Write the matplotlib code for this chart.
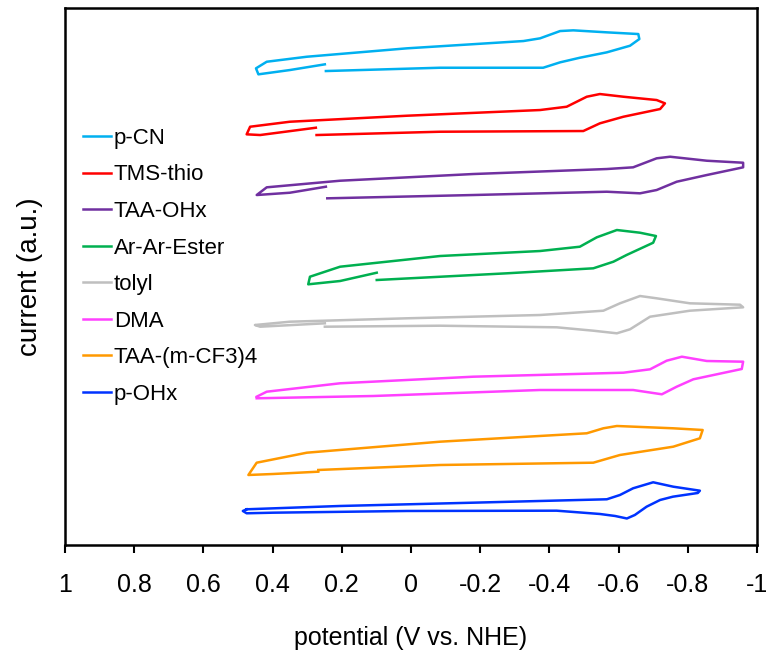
import numpy as np
import matplotlib
matplotlib.use("Agg")
import matplotlib.pyplot as plt

plt.rcParams['font.family'] = ['Liberation Sans', 'DejaVu Sans']

# potential (V vs. NHE) and current (a.u., curves stacked) for each CV
pcn_pot = [0.246, -0.084, -0.382, -0.431, -0.488, -0.566, -0.633, -0.660, -0.657,
           -0.566, -0.469, -0.431, -0.373, -0.325, 0.012, 0.301, 0.417, 0.448,
           0.441, 0.350, 0.249]
pcn_cur = [474, 477.3, 477.3, 482.7, 487.3, 492.7, 499.3, 506, 511,
           512.7, 514.7, 514, 506.7, 504, 496.7, 488.3, 483.3, 476.7,
           470.7, 475, 480.7]

tms_pot = [0.273, -0.084, -0.498, -0.546, -0.614, -0.720, -0.734, -0.710, -0.614,
           -0.546, -0.508, -0.450, -0.373, 0.012, 0.350, 0.465, 0.475, 0.436, 0.275]
tms_cur = [410, 413.3, 414, 421.7, 428.3, 436, 441.7, 445, 448.3,
           451, 448.3, 438.3, 435, 429.3, 423.3, 418.3, 410.7, 410, 417.3]

taa_pot = [0.242, -0.180, -0.566, -0.662, -0.710, -0.768, -0.855, -0.960, -0.960,
           -0.855, -0.749, -0.710, -0.642, -0.566, -0.180, 0.205, 0.417, 0.446,
           0.350, 0.246]
taa_cur = [346.7, 350, 353.3, 351.7, 355, 363.3, 370, 377.7, 382.3,
           384.3, 388.3, 386.7, 377.7, 376, 371, 364.3, 357.7, 350,
           352.3, 358.3]

ester_pot = [0.099, -0.277, -0.527, -0.585, -0.623, -0.700, -0.708, -0.662, -0.595,
             -0.537, -0.488, -0.373, -0.084, 0.205, 0.292, 0.297, 0.205, 0.099]
ester_cur = [265, 271.7, 276.7, 283.3, 290, 302.3, 309, 312.3, 315,
             307.7, 298.3, 294, 289, 278.3, 268.3, 260.7, 264, 272.3]

tolyl_pot = [0.249, -0.084, -0.421, -0.527, -0.595, -0.633, -0.691, -0.806, -0.960,
             -0.951, -0.806, -0.710, -0.662, -0.604, -0.556, -0.373, 0.012, 0.350,
             0.451, 0.436, 0.249]
tolyl_cur = [218.3, 219.3, 217.7, 214.3, 211.7, 215.7, 228.3, 234.3, 237.7,
             240.3, 241.7, 246.7, 249, 241.7, 234.3, 230, 226.7, 223.3,
             220, 218.3, 221.7]

dma_pot = [0.446, 0.109, -0.373, -0.642, -0.725, -0.768, -0.816, -0.956, -0.960,
           -0.855, -0.783, -0.739, -0.691, -0.614, -0.180, 0.205, 0.417, 0.446]
dma_cur = [146.7, 149, 155, 155, 150.7, 158.3, 165.7, 176, 183.3,
           184, 188.3, 184.3, 175.7, 172.3, 168.3, 161.7, 153.3, 148.3]

cf3_pot = [0.268, -0.084, -0.527, -0.604, -0.758, -0.835, -0.843, -0.758, -0.595,
           -0.556, -0.508, -0.084, 0.301, 0.446, 0.470, 0.398, 0.268]
cf3_cur = [75, 80, 82.3, 90, 98.3, 106.7, 115, 116.7, 119,
           116.7, 111.7, 103.3, 92.3, 82.3, 70, 71, 73.3]

pohx_pot = [0.475, 0.205, -0.180, -0.566, -0.604, -0.642, -0.700, -0.758, -0.835,
            -0.829, -0.757, -0.720, -0.681, -0.647, -0.624, -0.590, -0.546, -0.421,
            0.012, 0.398, 0.475, 0.486, 0.475]
pohx_cur = [35.7, 39, 42.3, 45.7, 50, 56.7, 62.7, 58.3, 54.3,
            52, 48.3, 45, 38.3, 30, 26.5, 29, 31, 34.3,
            34, 32.3, 31.7, 34, 35.7]

labels = ['p-CN', 'TMS-thio', 'TAA-OHx', 'Ar-Ar-Ester', 'tolyl', 'DMA',
          'TAA-(m-CF3)4', 'p-OHx']
colors = ['#00B0F0', '#FF0000', '#7030A0', '#00B050', '#BFBFBF', '#FF40FF',
          '#FF9900', '#0033FF']
potentials = [pcn_pot, tms_pot, taa_pot, ester_pot, tolyl_pot, dma_pot, cf3_pot, pohx_pot]
currents = [pcn_cur, tms_cur, taa_cur, ester_cur, tolyl_cur, dma_cur, cf3_cur, pohx_cur]

fig = plt.figure(figsize=(7.74, 6.54), dpi=100)
ax = fig.add_axes([0.084, 0.1667, 0.894, 0.821])

for pot, cur, lab, col in zip(potentials, currents, labels, colors):
    ax.plot(pot, cur, color=col, lw=1.8, label=lab, solid_joinstyle='round')

ax.set_xlim(1, -1)
ax.set_ylim(0, 537)
ax.set_xticks(np.arange(1, -1.01, -0.2))
ax.set_xticklabels(['1', '0.8', '0.6', '0.4', '0.2', '0', '-0.2', '-0.4',
                    '-0.6', '-0.8', '-1'])
ax.set_yticks([])
ax.tick_params(axis='x', direction='out', length=6, width=1.5, labelsize=18, pad=14)
for sp in ax.spines.values():
    sp.set_linewidth(1.8)

ax.set_xlabel('potential (V vs. NHE)', fontsize=18, labelpad=21)
ax.set_ylabel('current (a.u.)', fontsize=20, labelpad=16)

ax.legend(loc='upper left', bbox_to_anchor=(0.0, 0.81), frameon=False, fontsize=16,
          handlelength=1.25, handletextpad=0.15, labelspacing=0.7, borderaxespad=0.4)

fig.savefig('out.png', dpi=100)
